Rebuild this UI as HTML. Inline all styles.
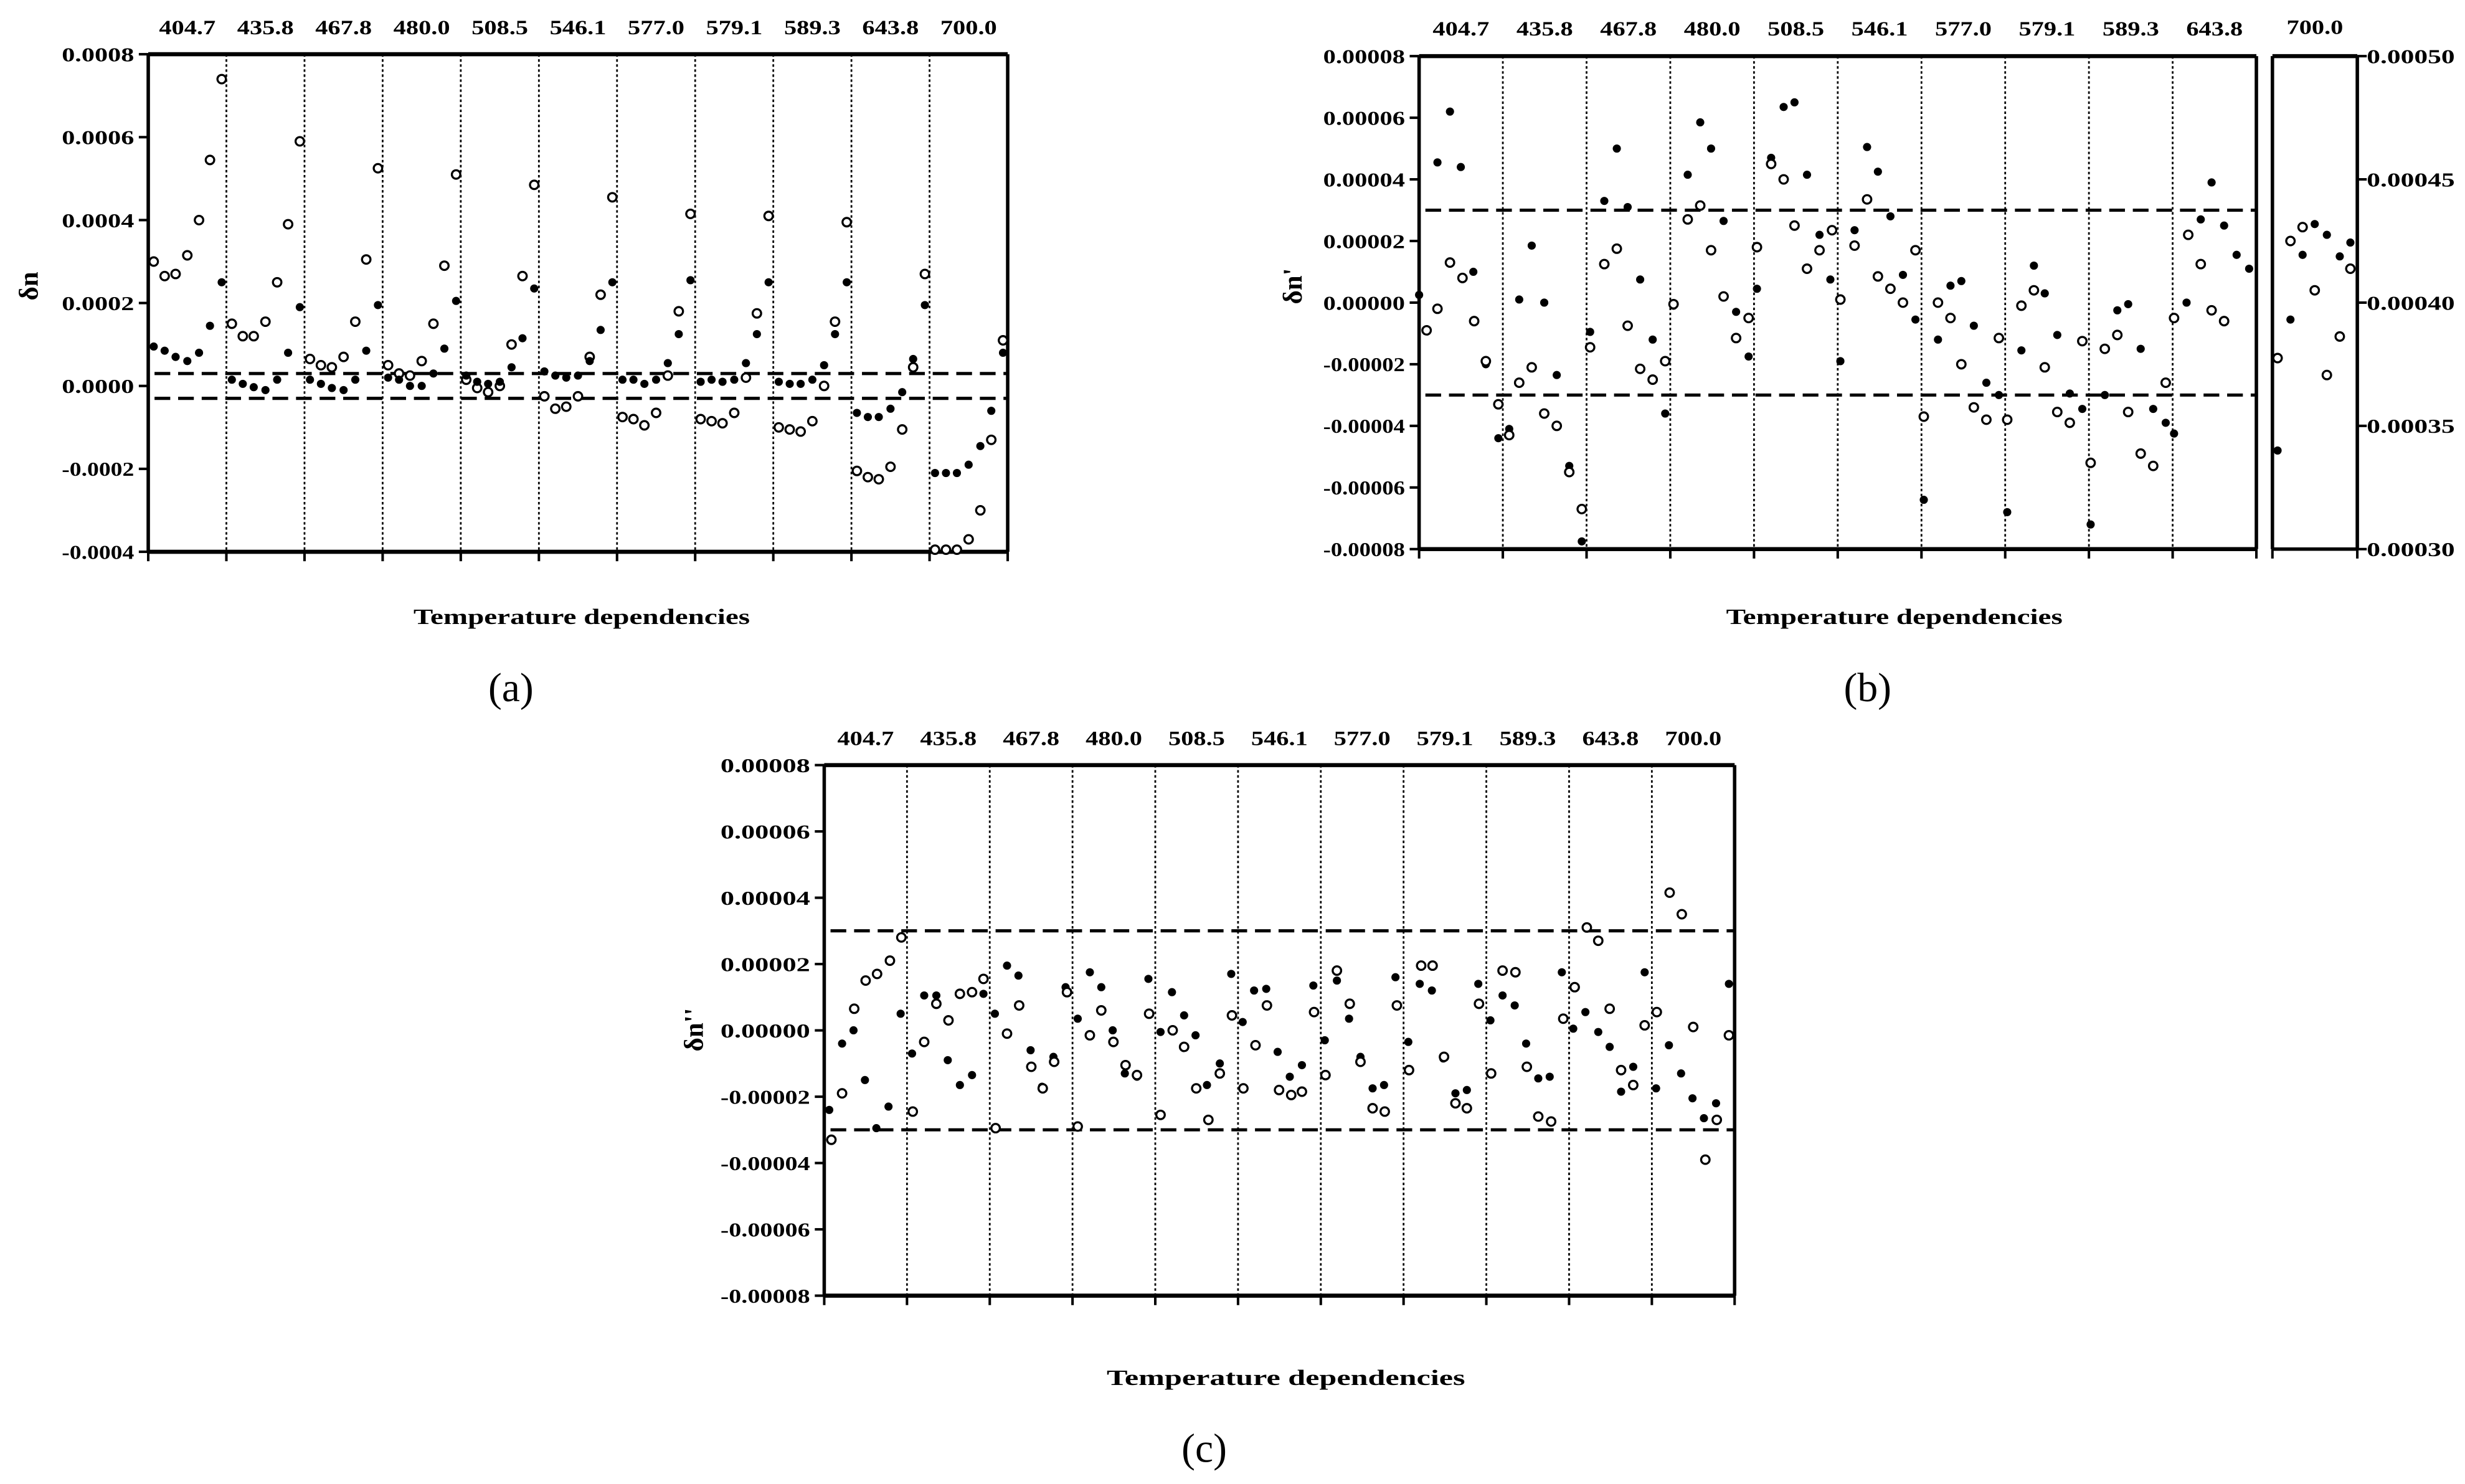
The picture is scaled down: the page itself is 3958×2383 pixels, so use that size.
<!DOCTYPE html>
<html><head><meta charset="utf-8"><style>
html,body{margin:0;padding:0;background:#fff;}
svg{display:block;}
text{font-family:"Liberation Serif",serif;font-weight:bold;fill:#000;}
.t{font-size:13px;}
.y{font-size:12.5px;}
.ti{font-size:14px;}
.cap{font-size:26px;font-weight:normal;}
</style></head><body>
<svg id="s" xmlns="http://www.w3.org/2000/svg" width="3958" height="2383" viewBox="0 0 1568 944" preserveAspectRatio="none">
<rect width="1568" height="944" fill="#fff"/>
<g id="g"></g>
</svg>
<script>
var NS="http://www.w3.org/2000/svg",G=document.getElementById('g');
function el(n,a,t){var e=document.createElementNS(NS,n);for(var k in a)e.setAttribute(k,a[k]);if(t!==undefined)e.textContent=t;G.appendChild(e);return e;}
function line(x1,y1,x2,y2,w,d){var a={x1:x1,y1:y1,x2:x2,y2:y2,stroke:'#000','stroke-width':w};if(d)a['stroke-dasharray']=d;el('line',a);}
function txt(x,y,s,c,anc,tl){var a={x:x,y:y,'class':c,'text-anchor':anc||'middle'};if(tl){a.textLength=tl;a.lengthAdjust='spacingAndGlyphs';}el('text',a,s);}
function pt(x,y,open){if(open)el('circle',{cx:x,cy:y,r:2.7,fill:'#fff',stroke:'#000','stroke-width':1.3});else el('circle',{cx:x,cy:y,r:2.6,fill:'#000'});}
var W=["404.7","435.8","467.8","480.0","508.5","546.1","577.0","579.1","589.3","643.8","700.0"];
function panel(L,R,T,B,nseg,ylabs,labBase,ylw){
  var sw=(R-L)/nseg;
  for(var i=1;i<nseg;i++){var x=L+i*sw;line(x,T,x,B,1.1,"1.6 1.6");line(x,B,x,B+6,1.6);}
  line(L,B,L,B+6,1.6);line(R,B,R,B+6,1.6);
  for(var i=0;i<nseg;i++)txt(L+(i+0.5)*sw,labBase,W[i],'t','middle',36);
  var n=ylabs.length-1;
  for(var j=0;j<=n;j++){var y=T+(B-T)*j/n;line(L-6,y,L,y,1.6);txt(L-9,y+4.5,ylabs[j],'y','end',ylw);}
  line(L,T,R,T,2.6);line(L,B,R,B,2.6);line(L,T,L,B,2.2);line(R,T,R,B,2.2);
}
// Panel a
var aL=94.3,aR=641,aT=34.5,aB=351;
panel(aL,aR,aT,aB,11,["0.0008","0.0006","0.0004","0.0002","0.0000","-0.0002","-0.0004"],21.8,46);
line(aL+4,237.6,aR,237.6,2,"10 5");line(aL+4,253.4,aR,253.4,2,"10 5");
el('text',{x:0,y:0,'class':'ti',transform:'translate(24,182) rotate(-90)','text-anchor':'middle',style:'font-size:17px'},'δn');
txt(370,397,"Temperature dependencies",'ti','middle',214);
txt(325,446,"(a)",'cap');
var F=[0.07,0.21,0.35,0.5,0.65,0.79,0.94];
var A=[
[[3.0,2.65,2.7,3.15,4.0,5.45,7.4],[0.95,0.85,0.7,0.6,0.8,1.45,2.5]],
[[1.5,1.2,1.2,1.55,2.5,3.9,5.9],[0.15,0.05,-0.03,-0.1,0.15,0.8,1.9]],
[[0.65,0.5,0.45,0.7,1.55,3.05,5.25],[0.15,0.05,-0.05,-0.1,0.15,0.85,1.95]],
[[0.5,0.3,0.25,0.6,1.5,2.9,5.1],[0.2,0.15,0.0,0.0,0.3,0.9,2.05]],
[[0.15,-0.05,-0.15,0.0,1.0,2.65,4.85],[0.25,0.1,0.05,0.1,0.45,1.15,2.35]],
[[-0.25,-0.55,-0.5,-0.25,0.7,2.2,4.55],[0.35,0.25,0.2,0.25,0.6,1.35,2.5]],
[[-0.75,-0.8,-0.95,-0.65,0.25,1.8,4.15],[0.15,0.15,0.05,0.15,0.55,1.25,2.55]],
[[-0.8,-0.85,-0.9,-0.65,0.2,1.75,4.1],[0.1,0.15,0.1,0.15,0.55,1.25,2.5]],
[[-1.0,-1.05,-1.1,-0.85,0.0,1.55,3.95],[0.1,0.05,0.05,0.15,0.5,1.25,2.5]],
[[-2.05,-2.2,-2.25,-1.95,-1.05,0.45,2.7],[-0.65,-0.75,-0.75,-0.55,-0.15,0.65,1.95]],
[[-3.95,-3.95,-3.95,-3.7,-3.0,-1.3,1.1],[-2.1,-2.1,-2.1,-1.9,-1.45,-0.6,0.8]]];
var asw=(aR-aL)/11;
for(var k=0;k<11;k++)for(var s=0;s<2;s++)for(var i=0;i<7;i++)pt(aL+(k+F[i])*asw,245.5-A[k][s][i]*26.375,s==0);
// Panel b
var bL=902.7,bR=1435.3,bT=35.7,bB=349.3;
panel(bL,bR,bT,bB,10,["0.00008","0.00006","0.00004","0.00002","0.00000","-0.00002","-0.00004","-0.00006","-0.00008"],22.5,52);
line(bL+4,133.7,bR,133.7,2,"10 5");line(bL+4,251.3,bR,251.3,2,"10 5");
// small panel
var sL=1445.5,sR=1499.5;
line(sL,bT,sR,bT,2.6);line(sL,bB,sR,bB,2.2);line(sL,bT,sL,bB,2.2);line(sR,bT,sR,bB,2.2);
line(sL,bB,sL,bB+6,1.6);line(sR,bB,sR,bB+6,1.6);
txt((sL+sR)/2,21.5,"700.0",'t','middle',36);
var rl=["0.00050","0.00045","0.00040","0.00035","0.00030"];
for(var j=0;j<5;j++){var y=bT+(bB-bT)*j/4;line(sR,y,sR+6,y,1.6);txt(sR+6,y+4.5,rl[j],'y','start',56);}
el('text',{x:0,y:0,'class':'ti',transform:'translate(828,182) rotate(-90)','text-anchor':'middle',style:'font-size:17px'},'δn\'');
txt(1205,397,"Temperature dependencies",'ti','middle',214);
txt(1188,446,"(b)",'cap');
function bx(p){return 902.7+(p-186)*0.4824;}
var Bf=[
[[0,0.25],[0.22,4.55],[0.37,6.2],[0.5,4.4],[0.65,1.0],[0.8,-2.0],[0.95,-4.4],[1.08,-4.1]],
[[0.2,0.1],[0.35,1.85],[0.5,0.0],[0.65,-2.35],[0.8,-5.3],[0.95,-7.75]],
[[0.05,-0.95],[0.22,3.3],[0.37,5.0],[0.5,3.1],[0.65,0.75],[0.8,-1.2],[0.95,-3.6]],
[[0.05,-0.1],[0.22,4.15],[0.37,5.85],[0.5,5.0],[0.65,2.65],[0.8,-0.3],[0.95,-1.75]],
[[0.05,0.45],[0.22,4.7],[0.37,6.35],[0.5,6.5],[0.65,4.15],[0.8,2.2],[0.93,0.75]],
[[0.05,-1.9],[0.22,2.35],[0.37,5.05],[0.5,4.25],[0.65,2.8],[0.8,0.9],[0.95,-0.55]],
[[0.05,-6.4],[0.22,-1.2],[0.37,0.55],[0.5,0.7],[0.65,-0.75],[0.8,-2.6],[0.95,-3.0]],
[[0.05,-6.8],[0.22,-1.55],[0.37,1.2],[0.5,0.3],[0.65,-1.05],[0.8,-2.95],[0.95,-3.45]],
[[0.05,-7.2],[0.22,-3.0],[0.37,-0.25],[0.5,-0.05],[0.65,-1.5],[0.8,-3.45],[0.95,-3.9],[1.05,-4.25]],
[[0.2,0.0],[0.37,2.7],[0.5,3.9],[0.65,2.5],[0.8,1.55],[0.95,1.1]]];
var Bo=[
[[0.09,-0.9],[0.22,-0.2],[0.37,1.3],[0.52,0.8],[0.66,-0.6],[0.8,-1.9],[0.95,-3.3],[1.08,-4.3]],
[[0.2,-2.6],[0.35,-2.1],[0.5,-3.6],[0.65,-4.0],[0.8,-5.5],[0.95,-6.7]],
[[0.05,-1.45],[0.22,1.25],[0.37,1.75],[0.5,-0.75],[0.65,-2.15],[0.8,-2.5],[0.95,-1.9]],
[[0.05,-0.05],[0.22,2.7],[0.37,3.15],[0.5,1.7],[0.65,0.2],[0.8,-1.15],[0.95,-0.5]],
[[0.05,1.8],[0.22,4.5],[0.37,4.0],[0.5,2.5],[0.65,1.1],[0.8,1.7],[0.95,2.35]],
[[0.05,0.1],[0.22,1.85],[0.37,3.35],[0.5,0.85],[0.65,0.45],[0.8,0.0],[0.95,1.7]],
[[0.05,-3.7],[0.22,0.0],[0.37,-0.5],[0.5,-2.0],[0.65,-3.4],[0.8,-3.8],[0.95,-1.15]],
[[0.05,-3.8],[0.22,-0.1],[0.37,0.4],[0.5,-2.1],[0.65,-3.55],[0.8,-3.9],[0.95,-1.25]],
[[0.05,-5.2],[0.22,-1.5],[0.37,-1.05],[0.5,-3.55],[0.65,-4.9],[0.8,-5.3],[0.95,-2.6]],
[[0.05,-0.5],[0.22,2.2],[0.37,1.25],[0.5,-0.25],[0.65,-0.6]]];
for(var k=0;k<10;k++){for(var i=0;i<Bf[k].length;i++)pt(bx(186+110*(k+Bf[k][i][0])),192.5-Bf[k][i][1]*19.6,false);
 for(var i=0;i<Bo[k].length;i++)pt(bx(186+110*(k+Bo[k][i][0])),192.5-Bo[k][i][1]*19.6,true);}
var So=[[1318,-1.8],[1335,2.0],[1351,2.45],[1367,0.4],[1383,-2.35],[1400,-1.1],[1414,1.1]];
var Sf=[[1318,-4.8],[1335,-0.55],[1351,1.55],[1367,2.55],[1383,2.2],[1400,1.5],[1414,1.95]];
for(var i=0;i<7;i++){pt(bx(So[i][0]),192.5-So[i][1]*19.6,true);pt(bx(Sf[i][0]),192.5-Sf[i][1]*19.6,false);}
// Panel c
var cL=524.3,cR=1103.4,cT=486.7,cB=824.2;
panel(cL,cR,cT,cB,11,["0.00008","0.00006","0.00004","0.00002","0.00000","-0.00002","-0.00004","-0.00006","-0.00008"],474,57);
line(cL+4,592.1,cR,592.1,2,"10 5");line(cL+4,718.7,cR,718.7,2,"10 5");
el('text',{x:0,y:0,'class':'ti',transform:'translate(447,655) rotate(-90)','text-anchor':'middle',style:'font-size:17px'},'δn\'\'');
txt(818,881,"Temperature dependencies",'ti','middle',228);
txt(766,930,"(c)",'cap');
function cx(p){return 524.3+(p-193)*0.4542;}
var Cf=[[200,-2.4],[218,-0.4],[234,0.0],[250,-1.5],[266,-2.95],[283,-2.3],[300,0.5],
[316,-0.7],[333,1.05],[350,1.05],[366,-0.9],[383,-1.65],[400,-1.35],[416,1.1],[432,0.5],
[449,1.95],[465,1.65],[482,-0.6],[498,-1.7],[514,-0.8],[531,1.3],[548,0.35],
[565,1.75],[581,1.3],[597,0.0],[614,-1.3],[631,-1.4],[647,1.55],[664,-0.05],
[680,1.15],[697,0.45],[713,-0.15],[729,-1.65],[747,-1.0],[763,1.7],[779,0.25],
[795,1.2],[812,1.25],[828,-0.65],[845,-1.4],[862,-1.05],[878,1.35],[894,-0.3],
[911,1.5],[928,0.35],[944,-0.8],[961,-1.75],[977,-1.65],[993,1.6],[1011,-0.35],
[1027,1.4],[1044,1.2],[1060,-0.85],[1077,-1.9],[1093,-1.8],[1109,1.4],[1126,0.3],
[1143,1.05],[1160,0.75],[1176,-0.4],[1193,-1.45],[1209,-1.4],[1226,1.75],[1242,0.05],
[1259,0.55],[1277,-0.05],[1293,-0.5],[1309,-1.85],[1326,-1.1],[1342,1.75],[1358,-1.75],
[1376,-0.45],[1393,-1.3],[1409,-2.05],[1425,-2.65],[1442,-2.2],[1460,1.4]];
var Co=[[203,-3.3],[218,-1.9],[235,0.65],[251,1.5],[267,1.7],[285,2.1],[301,2.8],
[317,-2.45],[333,-0.35],[350,0.8],[367,0.3],[383,1.1],[400,1.15],[416,1.55],[433,-2.95],
[449,-0.1],[466,0.75],[483,-1.1],[499,-1.75],[515,-0.95],[533,1.15],[548,-2.9],
[565,-0.15],[581,0.6],[598,-0.35],[615,-1.05],[631,-1.35],[648,0.5],[664,-2.55],
[681,0.0],[697,-0.5],[714,-1.75],[731,-2.7],[747,-1.3],[764,0.45],[780,-1.75],
[797,-0.45],[813,0.75],[830,-1.8],[847,-1.95],[862,-1.85],[879,0.55],[895,-1.35],
[911,1.8],[929,0.8],[944,-0.95],[961,-2.35],[978,-2.45],[995,0.75],[1012,-1.2],
[1029,1.95],[1045,1.95],[1061,-0.8],[1077,-2.2],[1093,-2.35],[1110,0.8],[1127,-1.3],
[1143,1.8],[1161,1.75],[1177,-1.1],[1193,-2.6],[1211,-2.75],[1228,0.35],[1244,1.3],
[1261,3.1],[1277,2.7],[1293,0.65],[1309,-1.2],[1326,-1.65],[1342,0.15],[1359,0.55],
[1377,4.15],[1394,3.5],[1410,0.1],[1427,-3.9],[1443,-2.7],[1460,-0.15]];
for(var i=0;i<Cf.length;i++)pt(cx(Cf[i][0]),655.4-Cf[i][1]*21.1,false);
for(var i=0;i<Co.length;i++)pt(cx(Co[i][0]),655.4-Co[i][1]*21.1,true);
</script>
</body></html>
